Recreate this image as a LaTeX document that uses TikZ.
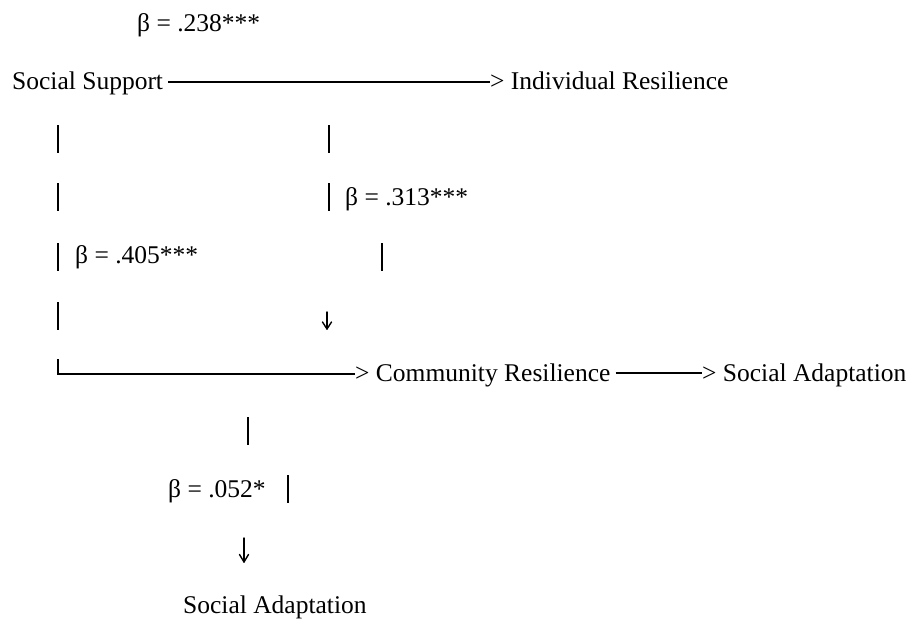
\documentclass[tikz,border=0pt]{standalone}
\usepackage{fontspec}
\setmainfont{Liberation Serif}
\begin{document}
\begin{tikzpicture}[x=1pt,y=1pt,
  lbl/.style={inner sep=0pt, anchor=base west, font=\fontsize{25.5}{30}\selectfont},
  rule/.style={line width=2pt, black},
  vbar/.style={inner sep=0pt, minimum width=2.4pt, minimum height=28pt, fill=black, draw=none},
  darr/.style={line width=1.4pt, black, line cap=round, line join=round}]
\useasboundingbox (0,0) rectangle (911,-623);

% text nodes
\node[lbl] (b238) at (137,-32) {β = .238***};
\node[lbl] (ss) at (12,-90) {Social Support};
\node[lbl] (ir) at (490,-90) {> Individual Resilience};
\node[lbl] (b313) at (345,-205) {β = .313***};
\node[lbl] (b405) at (75,-263) {β = .405***};
\node[lbl] (cr) at (355,-381) {> Community Resilience};
\node[lbl] (sa1) at (702,-381) {> Social Adaptation};
\node[lbl] (b052) at (168,-497) {β = .052*};
\node[lbl] (sa2) at (183,-613) {Social Adaptation};

% vertical bars
\node[vbar] (l1) at (58,-139) {};
\node[vbar] (l2) at (58,-197.5) {};
\node[vbar] (l3) at (58,-257) {};
\node[vbar] (l4) at (58,-315.5) {};
\node[vbar] (r1) at (329,-139.5) {};
\node[vbar] (r2) at (329,-197.5) {};
\node[vbar] (r3) at (382,-257) {};
\node[vbar] (d1) at (248,-431) {};
\node[vbar] (d2) at (288,-489) {};

% horizontal rules
\draw[rule] ([shift={(5pt,8pt)}]ss.base east) -- ([shift={(0pt,8pt)}]ir.base west);
\coordinate (ctop) at (58,-359);
\coordinate (corner) at (58,-373.5);
\draw[line width=2.4pt] (ctop) -- ([yshift=-1pt]corner);
\draw[rule] ([xshift=-1pt]corner) -- ([shift={(0pt,7.5pt)}]cr.base west);
\draw[rule] ([shift={(5pt,8pt)}]cr.base east) -- ([shift={(0pt,8pt)}]sa1.base west);

% down arrows
\coordinate (a1t) at (327,-312);
\coordinate (a1b) at (327,-329);
\draw[darr] (a1t) -- (a1b);
\draw[darr] ([shift={(-4.5pt,7pt)}]a1b) -- (a1b) -- ([shift={(4.5pt,7pt)}]a1b);
\coordinate (a2t) at (244,-538);
\coordinate (a2b) at (244,-562);
\draw[darr] (a2t) -- (a2b);
\draw[darr] ([shift={(-4.5pt,7.5pt)}]a2b) -- (a2b) -- ([shift={(4.5pt,7.5pt)}]a2b);
\end{tikzpicture}
\end{document}
